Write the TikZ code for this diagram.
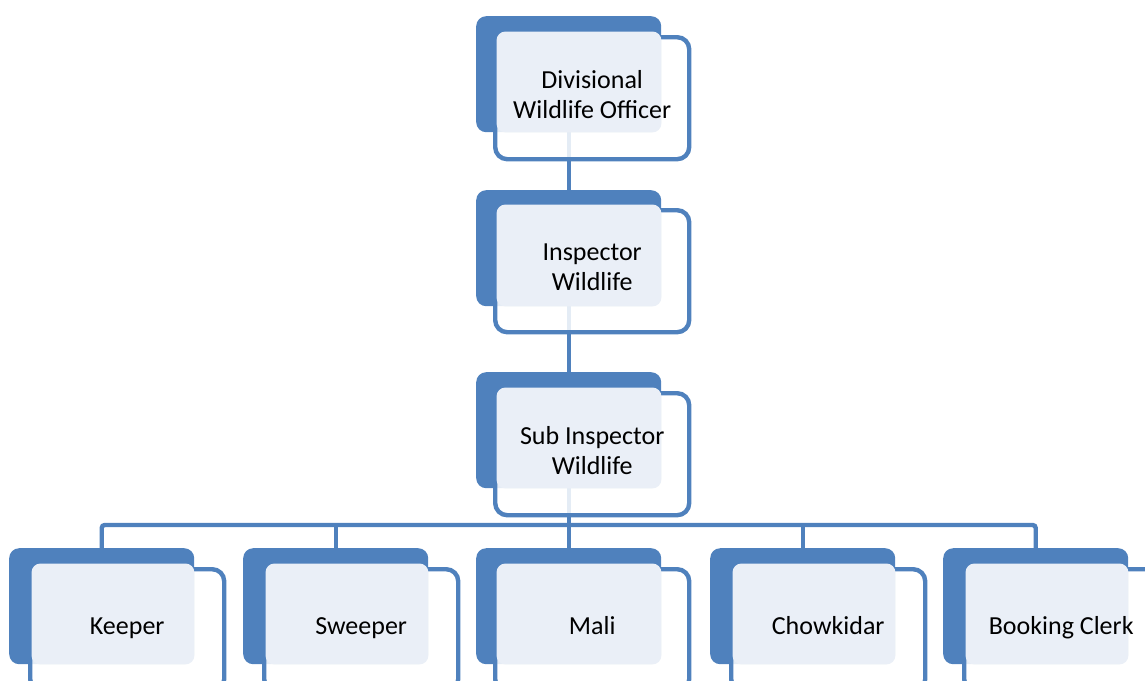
\documentclass[tikz,border=0pt]{standalone}
\usepackage{fontspec}
\setmainfont{Carlito}
\definecolor{dkblue}{HTML}{4F81BD}
\definecolor{ltblue}{HTML}{EAEFF7}
\begin{document}
\begin{tikzpicture}[x=1pt,y=-1pt,
  backbox/.style={fill=dkblue, draw=none, rounded corners=10pt, minimum width=185pt, minimum height=116pt, anchor=north west, inner sep=0pt},
  frontbox/.style={fill=white, fill opacity=0.85, draw=dkblue, draw opacity=1, line width=4.4pt, rounded corners=12pt, minimum width=194pt, minimum height=122pt, anchor=north west, inner sep=0pt},
  lightfill/.style={fill=ltblue, rounded corners=9pt},
  label/.style={font=\fontsize{26}{30}\selectfont, align=center, text=black},
  rowlabel/.style={label, text height=18pt, text depth=5pt},
  conn/.style={draw=dkblue, line width=4.4pt, rounded corners=3pt}
]
\clip (0,0) rectangle (1145,680);
\useasboundingbox (0,0) rectangle (1145,680);
% back boxes
\node[backbox] (b1) at (476,16) {};
\node[backbox] (b2) at (476,190) {};
\node[backbox] (b3) at (476,372) {};
\node[backbox] (b4) at (9,548) {};
\node[backbox] (b5) at (243,548) {};
\node[backbox] (b6) at (476,548) {};
\node[backbox] (b7) at (710,548) {};
\node[backbox] (b8) at (943,548) {};
% connectors
\coordinate (bus) at (568,525);
\draw[conn] (b1.south) -- (b2.north);
\draw[conn] (b2.south) -- (b3.north);
\draw[conn] (b3.south) -- (b6.north);
\draw[conn] (b4.north) |- (bus) -| (b8.north);
\draw[conn] (b5.north) -- (b5.north |- bus);
\draw[conn] (b7.north) -- (b7.north |- bus);
% front boxes
\foreach \i/\x/\y in {1/493/35, 2/493/208, 3/493/391, 4/28/567, 5/262/567, 6/493/567, 7/729/567, 8/962/567}{
  \node[frontbox] (f\i) at (\x,\y) {};
  \fill[lightfill] ([shift={(3.5,-3.5)}]f\i.north west) rectangle (b\i.south east);
}
% labels
\node[label] (t1) at ([yshift=4pt]f1.center) {Divisional\\Wildlife Officer};
\node[label] (t2) at ([yshift=4pt]f2.center) {Inspector\\Wildlife};
\node[label] (t3) at ([yshift=4pt]f3.center) {Sub Inspector\\Wildlife};
\node[rowlabel] (t4) at ([yshift=-61pt]f4.north) {Keeper};
\node[rowlabel] (t5) at ([yshift=-61pt]f5.north) {Sweeper};
\node[rowlabel] (t6) at ([yshift=-61pt]f6.north) {Mali};
\node[rowlabel] (t7) at ([yshift=-61pt]f7.north) {Chowkidar};
\node[rowlabel] (t8) at ([yshift=-61pt]f8.north) {Booking Clerk};
\end{tikzpicture}
\end{document}
